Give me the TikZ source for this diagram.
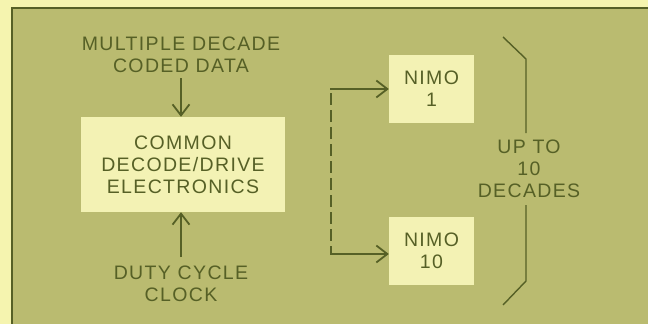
\documentclass[tikz,border=0pt]{standalone}
\usepackage{fontspec}
\setmainfont{Liberation Sans}[LetterSpace=7]
\usetikzlibrary{arrows.meta}
\definecolor{outerbg}{RGB}{245,244,175}
\definecolor{panel}{RGB}{186,187,112}
\definecolor{boxfill}{RGB}{243,242,180}
\definecolor{ink}{RGB}{86,96,38}
\begin{document}
\begin{tikzpicture}[x=1pt,y=-1pt,
  txt/.style={text=ink,font=\fontsize{19.5}{22}\selectfont,align=center,inner sep=0pt},
  bigbox/.style={fill=boxfill,minimum width=204pt,minimum height=95pt,text=ink,font=\fontsize{19.5}{22}\selectfont,align=center,inner sep=0pt},
  nimobox/.style={fill=boxfill,minimum width=85pt,minimum height=68pt,text=ink,font=\fontsize{19.5}{22}\selectfont,align=center,inner sep=0pt},
  conn/.style={draw=ink,line width=2pt},
  barb/.style={-{Straight Barb[length=11pt,width=17pt,line width=1.8pt]}}
]
\useasboundingbox (0,0) rectangle (648,324);
\fill[outerbg] (0,0) rectangle (648,324);
\fill[panel] (12,8) rectangle (650,326);
\draw[ink,line width=1.6pt] (12,326) -- (12,8) -- (650,8);

\node[txt] (data) at (181,55) {MULTIPLE DECADE\\CODED DATA};
\node[bigbox] (main) at (183,164.5) {COMMON\\DECODE/DRIVE\\ELECTRONICS};
\node[txt] (clock) at (181,284) {DUTY CYCLE\\CLOCK};
\node[nimobox] (n1) at (431.5,88.5) {NIMO\\1};
\node[nimobox] (n10) at (431.5,251) {NIMO\\10};
\node[txt] (up) at (529,169) {UP TO\\10\\DECADES};

\coordinate (dtop) at (181,78);
\coordinate (cbot) at (181,257);
\draw[conn,line width=1.6pt,barb] (dtop) -- (main.north -| dtop);
\draw[conn,line width=1.6pt,barb] (cbot) -- (main.south -| cbot);

\coordinate (t) at (331,89);
\coordinate (b) at (331,254);
\draw[conn,dash pattern=on 12pt off 5pt,dash phase=-4pt] (t) -- (b);
\draw[conn,barb,line cap=rect] (t) -- (n1.west |- t);
\draw[conn,barb,line cap=rect] (b) -- (n10.west |- b);

\coordinate (bt) at (503,37);
\coordinate (bm1) at (526,59);
\coordinate (bm2) at (526,133);
\coordinate (bm3) at (526,205);
\coordinate (bm4) at (526,281);
\coordinate (bb) at (503,305);
\draw[ink,line width=1.4pt,line join=round] (bt) -- (bm1) -- (bm2);
\draw[ink,line width=1.4pt,line join=round] (bm3) -- (bm4) -- (bb);
\end{tikzpicture}
\end{document}
